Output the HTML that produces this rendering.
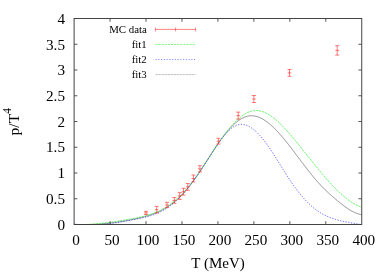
<!DOCTYPE html><html><head><meta charset="utf-8"><style>html,body{margin:0;padding:0;background:#fff}svg{display:block;will-change:transform;transform:translateZ(0)}</style></head><body><svg width="389" height="273" viewBox="0 0 389 273"><rect width="389" height="273" fill="#fff"/><path d="M74.1,224.37 L74.6,224.39 L75.1,224.42 L75.6,224.44 L76.1,224.46 L76.6,224.48 L77.1,224.49 L77.6,224.50 L78.1,224.50 L78.6,224.50 L79.1,224.50 L79.6,224.50 L80.1,224.50 L80.6,224.50 L81.1,224.50 L81.6,224.50 L82.1,224.50 L82.6,224.50 L83.1,224.50 L83.6,224.50 L84.1,224.50 L84.6,224.50 L85.1,224.50 L85.6,224.50 L86.1,224.50 L86.6,224.50 L87.1,224.50 L87.6,224.50 L88.1,224.50 L88.6,224.50 L89.1,224.50 L89.6,224.50 L90.1,224.50 L90.6,224.50 L91.1,224.50 L91.6,224.49 L92.1,224.47 L92.6,224.45 L93.1,224.43 L93.6,224.41 L94.1,224.39 L94.6,224.37 L95.1,224.34 L95.6,224.32 L96.1,224.29 L96.6,224.26 L97.1,224.23 L97.6,224.20 L98.1,224.17 L98.6,224.14 L99.1,224.11 L99.6,224.07 L100.1,224.04 L100.6,224.00 L101.1,223.96 L101.6,223.92 L102.1,223.88 L102.6,223.84 L103.1,223.80 L103.6,223.75 L104.1,223.71 L104.6,223.66 L105.1,223.62 L105.6,223.57 L106.1,223.52 L106.6,223.47 L107.1,223.42 L107.6,223.37 L108.1,223.32 L108.6,223.26 L109.1,223.21 L109.6,223.15 L110.1,223.09 L110.6,223.03 L111.1,222.97 L111.6,222.91 L112.1,222.85 L112.6,222.79 L113.1,222.73 L113.6,222.66 L114.1,222.60 L114.6,222.53 L115.1,222.46 L115.6,222.39 L116.1,222.32 L116.6,222.25 L117.1,222.18 L117.6,222.11 L118.1,222.04 L118.6,221.96 L119.1,221.89 L119.6,221.81 L120.1,221.73 L120.6,221.65 L121.1,221.57 L121.6,221.49 L122.1,221.41 L122.6,221.33 L123.1,221.24 L123.6,221.16 L124.1,221.07 L124.6,220.99 L125.1,220.90 L125.6,220.81 L126.1,220.72 L126.6,220.63 L127.1,220.54 L127.6,220.45 L128.1,220.36 L128.6,220.26 L129.1,220.17 L129.6,220.07 L130.1,219.97 L130.6,219.88 L131.1,219.78 L131.6,219.68 L132.1,219.58 L132.6,219.48 L133.1,219.37 L133.6,219.27 L134.1,219.17 L134.6,219.06 L135.1,218.96 L135.6,218.85 L136.1,218.74 L136.6,218.63 L137.1,218.52 L137.6,218.41 L138.1,218.30 L138.6,218.19 L139.1,218.07 L139.6,217.96 L140.1,217.84 L140.6,217.72 L141.1,217.60 L141.6,217.48 L142.1,217.35 L142.6,217.23 L143.1,217.10 L143.6,216.97 L144.1,216.84 L144.6,216.70 L145.1,216.57 L145.6,216.43 L146.1,216.29 L146.6,216.14 L147.1,216.00 L147.6,215.85 L148.1,215.70 L148.6,215.54 L149.1,215.38 L149.6,215.22 L150.1,215.06 L150.6,214.89 L151.1,214.72 L151.6,214.55 L152.1,214.38 L152.6,214.20 L153.1,214.01 L153.6,213.82 L154.1,213.63 L154.6,213.44 L155.1,213.24 L155.6,213.04 L156.1,212.83 L156.6,212.62 L157.1,212.41 L157.6,212.19 L158.1,211.97 L158.6,211.74 L159.1,211.51 L159.6,211.27 L160.1,211.03 L160.6,210.78 L161.1,210.53 L161.6,210.28 L162.1,210.02 L162.6,209.75 L163.1,209.48 L163.6,209.21 L164.1,208.92 L164.6,208.64 L165.1,208.35 L165.6,208.05 L166.1,207.75 L166.6,207.44 L167.1,207.12 L167.6,206.80 L168.1,206.48 L168.6,206.15 L169.1,205.81 L169.6,205.46 L170.1,205.11 L170.6,204.76 L171.1,204.39 L171.6,204.02 L172.1,203.65 L172.6,203.26 L173.1,202.87 L173.6,202.48 L174.1,202.08 L174.6,201.67 L175.1,201.25 L175.6,200.82 L176.1,200.39 L176.6,199.95 L177.1,199.51 L177.6,199.06 L178.1,198.59 L178.6,198.13 L179.1,197.65 L179.6,197.17 L180.1,196.68 L180.6,196.18 L181.1,195.67 L181.6,195.16 L182.1,194.64 L182.6,194.12 L183.1,193.58 L183.6,193.04 L184.1,192.49 L184.6,191.94 L185.1,191.38 L185.6,190.81 L186.1,190.23 L186.6,189.65 L187.1,189.06 L187.6,188.46 L188.1,187.86 L188.6,187.25 L189.1,186.63 L189.6,186.00 L190.1,185.37 L190.6,184.74 L191.1,184.09 L191.6,183.44 L192.1,182.78 L192.6,182.12 L193.1,181.45 L193.6,180.77 L194.1,180.09 L194.6,179.40 L195.1,178.70 L195.6,178.00 L196.1,177.29 L196.6,176.57 L197.1,175.85 L197.6,175.12 L198.1,174.39 L198.6,173.64 L199.1,172.90 L199.6,172.15 L200.1,171.39 L200.6,170.63 L201.1,169.86 L201.6,169.09 L202.1,168.31 L202.6,167.54 L203.1,166.76 L203.6,165.97 L204.1,165.19 L204.6,164.40 L205.1,163.61 L205.6,162.82 L206.1,162.03 L206.6,161.23 L207.1,160.44 L207.6,159.65 L208.1,158.86 L208.6,158.07 L209.1,157.28 L209.6,156.49 L210.1,155.70 L210.6,154.92 L211.1,154.13 L211.6,153.35 L212.1,152.58 L212.6,151.81 L213.1,151.04 L213.6,150.27 L214.1,149.51 L214.6,148.75 L215.1,148.00 L215.6,147.25 L216.1,146.51 L216.6,145.77 L217.1,145.04 L217.6,144.31 L218.1,143.59 L218.6,142.87 L219.1,142.16 L219.6,141.45 L220.1,140.75 L220.6,140.05 L221.1,139.37 L221.6,138.68 L222.1,138.01 L222.6,137.34 L223.1,136.68 L223.6,136.02 L224.1,135.38 L224.6,134.74 L225.1,134.11 L225.6,133.48 L226.1,132.87 L226.6,132.26 L227.1,131.66 L227.6,131.07 L228.1,130.48 L228.6,129.91 L229.1,129.34 L229.6,128.79 L230.1,128.24 L230.6,127.70 L231.1,127.17 L231.6,126.66 L232.1,126.15 L232.6,125.65 L233.1,125.16 L233.6,124.68 L234.1,124.22 L234.6,123.76 L235.1,123.31 L235.6,122.88 L236.1,122.45 L236.6,122.04 L237.1,121.64 L237.6,121.25 L238.1,120.88 L238.6,120.51 L239.1,120.16 L239.6,119.82 L240.1,119.49 L240.6,119.18 L241.1,118.87 L241.6,118.58 L242.1,118.31 L242.6,118.05 L243.1,117.80 L243.6,117.56 L244.1,117.34 L244.6,117.13 L245.1,116.94 L245.6,116.76 L246.1,116.60 L246.6,116.45 L247.1,116.31 L247.6,116.19 L248.1,116.09 L248.6,116.00 L249.1,115.92 L249.6,115.86 L250.1,115.82 L250.6,115.79 L251.1,115.77 L251.6,115.77 L252.1,115.78 L252.6,115.81 L253.1,115.85 L253.6,115.90 L254.1,115.97 L254.6,116.05 L255.1,116.14 L255.6,116.25 L256.1,116.37 L256.6,116.51 L257.1,116.65 L257.6,116.81 L258.1,116.98 L258.6,117.16 L259.1,117.36 L259.6,117.56 L260.1,117.78 L260.6,118.01 L261.1,118.25 L261.6,118.50 L262.1,118.77 L262.6,119.04 L263.1,119.33 L263.6,119.62 L264.1,119.93 L264.6,120.25 L265.1,120.58 L265.6,120.91 L266.1,121.26 L266.6,121.62 L267.1,121.98 L267.6,122.36 L268.1,122.74 L268.6,123.14 L269.1,123.54 L269.6,123.95 L270.1,124.38 L270.6,124.81 L271.1,125.24 L271.6,125.69 L272.1,126.14 L272.6,126.61 L273.1,127.08 L273.6,127.55 L274.1,128.04 L274.6,128.53 L275.1,129.03 L275.6,129.54 L276.1,130.05 L276.6,130.57 L277.1,131.10 L277.6,131.63 L278.1,132.17 L278.6,132.72 L279.1,133.27 L279.6,133.83 L280.1,134.39 L280.6,134.96 L281.1,135.53 L281.6,136.11 L282.1,136.70 L282.6,137.29 L283.1,137.88 L283.6,138.48 L284.1,139.08 L284.6,139.69 L285.1,140.30 L285.6,140.92 L286.1,141.54 L286.6,142.16 L287.1,142.79 L287.6,143.42 L288.1,144.05 L288.6,144.69 L289.1,145.33 L289.6,145.97 L290.1,146.62 L290.6,147.26 L291.1,147.91 L291.6,148.57 L292.1,149.22 L292.6,149.88 L293.1,150.53 L293.6,151.19 L294.1,151.85 L294.6,152.52 L295.1,153.18 L295.6,153.84 L296.1,154.51 L296.6,155.18 L297.1,155.84 L297.6,156.51 L298.1,157.18 L298.6,157.84 L299.1,158.51 L299.6,159.18 L300.1,159.84 L300.6,160.51 L301.1,161.17 L301.6,161.84 L302.1,162.50 L302.6,163.17 L303.1,163.83 L303.6,164.49 L304.1,165.14 L304.6,165.80 L305.1,166.45 L305.6,167.11 L306.1,167.76 L306.6,168.41 L307.1,169.05 L307.6,169.69 L308.1,170.33 L308.6,170.97 L309.1,171.60 L309.6,172.24 L310.1,172.86 L310.6,173.49 L311.1,174.11 L311.6,174.72 L312.1,175.34 L312.6,175.94 L313.1,176.55 L313.6,177.15 L314.1,177.74 L314.6,178.33 L315.1,178.92 L315.6,179.50 L316.1,180.08 L316.6,180.65 L317.1,181.22 L317.6,181.79 L318.1,182.35 L318.6,182.90 L319.1,183.45 L319.6,184.00 L320.1,184.54 L320.6,185.08 L321.1,185.61 L321.6,186.14 L322.1,186.67 L322.6,187.18 L323.1,187.70 L323.6,188.21 L324.1,188.72 L324.6,189.22 L325.1,189.72 L325.6,190.21 L326.1,190.70 L326.6,191.18 L327.1,191.66 L327.6,192.13 L328.1,192.60 L328.6,193.06 L329.1,193.52 L329.6,193.98 L330.1,194.43 L330.6,194.88 L331.1,195.32 L331.6,195.76 L332.1,196.19 L332.6,196.62 L333.1,197.05 L333.6,197.47 L334.1,197.89 L334.6,198.31 L335.1,198.73 L335.6,199.15 L336.1,199.56 L336.6,199.97 L337.1,200.38 L337.6,200.80 L338.1,201.21 L338.6,201.62 L339.1,202.03 L339.6,202.44 L340.1,202.84 L340.6,203.25 L341.1,203.65 L341.6,204.05 L342.1,204.44 L342.6,204.84 L343.1,205.22 L343.6,205.61 L344.1,205.99 L344.6,206.36 L345.1,206.73 L345.6,207.09 L346.1,207.45 L346.6,207.80 L347.1,208.15 L347.6,208.49 L348.1,208.82 L348.6,209.15 L349.1,209.47 L349.6,209.79 L350.1,210.09 L350.6,210.39 L351.1,210.68 L351.6,210.97 L352.1,211.24 L352.6,211.51 L353.1,211.77 L353.6,212.02 L354.1,212.27 L354.6,212.50 L355.1,212.72 L355.6,212.94 L356.1,213.14 L356.6,213.34 L357.1,213.52 L357.6,213.70 L358.1,213.86 L358.6,214.02 L359.1,214.16 L359.6,214.29 L360.1,214.41 L360.6,214.52 L361.1,214.62 L361.6,214.70" fill="none" stroke="#626262" stroke-width="0.7"/><path d="M74.1,224.50 L74.6,224.50 L75.1,224.50 L75.6,224.50 L76.1,224.50 L76.6,224.50 L77.1,224.50 L77.6,224.50 L78.1,224.50 L78.6,224.50 L79.1,224.50 L79.6,224.50 L80.1,224.50 L80.6,224.50 L81.1,224.50 L81.6,224.50 L82.1,224.50 L82.6,224.50 L83.1,224.50 L83.6,224.50 L84.1,224.50 L84.6,224.50 L85.1,224.50 L85.6,224.49 L86.1,224.48 L86.6,224.46 L87.1,224.43 L87.6,224.41 L88.1,224.39 L88.6,224.36 L89.1,224.34 L89.6,224.31 L90.1,224.28 L90.6,224.25 L91.1,224.22 L91.6,224.19 L92.1,224.15 L92.6,224.12 L93.1,224.08 L93.6,224.05 L94.1,224.01 L94.6,223.97 L95.1,223.93 L95.6,223.89 L96.1,223.85 L96.6,223.80 L97.1,223.76 L97.6,223.71 L98.1,223.67 L98.6,223.62 L99.1,223.57 L99.6,223.52 L100.1,223.47 L100.6,223.42 L101.1,223.36 L101.6,223.31 L102.1,223.26 L102.6,223.20 L103.1,223.14 L103.6,223.09 L104.1,223.03 L104.6,222.97 L105.1,222.91 L105.6,222.85 L106.1,222.79 L106.6,222.72 L107.1,222.66 L107.6,222.60 L108.1,222.53 L108.6,222.47 L109.1,222.40 L109.6,222.33 L110.1,222.26 L110.6,222.19 L111.1,222.13 L111.6,222.05 L112.1,221.98 L112.6,221.91 L113.1,221.84 L113.6,221.77 L114.1,221.69 L114.6,221.62 L115.1,221.54 L115.6,221.47 L116.1,221.39 L116.6,221.32 L117.1,221.24 L117.6,221.16 L118.1,221.08 L118.6,221.00 L119.1,220.92 L119.6,220.84 L120.1,220.76 L120.6,220.68 L121.1,220.60 L121.6,220.52 L122.1,220.43 L122.6,220.35 L123.1,220.27 L123.6,220.18 L124.1,220.10 L124.6,220.01 L125.1,219.93 L125.6,219.84 L126.1,219.76 L126.6,219.67 L127.1,219.59 L127.6,219.50 L128.1,219.41 L128.6,219.32 L129.1,219.24 L129.6,219.15 L130.1,219.06 L130.6,218.97 L131.1,218.88 L131.6,218.79 L132.1,218.70 L132.6,218.61 L133.1,218.52 L133.6,218.43 L134.1,218.34 L134.6,218.24 L135.1,218.15 L135.6,218.06 L136.1,217.96 L136.6,217.86 L137.1,217.77 L137.6,217.67 L138.1,217.57 L138.6,217.46 L139.1,217.36 L139.6,217.25 L140.1,217.15 L140.6,217.04 L141.1,216.93 L141.6,216.81 L142.1,216.70 L142.6,216.58 L143.1,216.46 L143.6,216.34 L144.1,216.22 L144.6,216.09 L145.1,215.96 L145.6,215.83 L146.1,215.70 L146.6,215.56 L147.1,215.42 L147.6,215.28 L148.1,215.13 L148.6,214.98 L149.1,214.83 L149.6,214.68 L150.1,214.52 L150.6,214.36 L151.1,214.19 L151.6,214.02 L152.1,213.85 L152.6,213.67 L153.1,213.49 L153.6,213.31 L154.1,213.12 L154.6,212.92 L155.1,212.73 L155.6,212.53 L156.1,212.32 L156.6,212.11 L157.1,211.90 L157.6,211.68 L158.1,211.45 L158.6,211.22 L159.1,210.99 L159.6,210.75 L160.1,210.51 L160.6,210.26 L161.1,210.01 L161.6,209.75 L162.1,209.48 L162.6,209.21 L163.1,208.94 L163.6,208.66 L164.1,208.37 L164.6,208.08 L165.1,207.78 L165.6,207.47 L166.1,207.16 L166.6,206.85 L167.1,206.52 L167.6,206.20 L168.1,205.86 L168.6,205.52 L169.1,205.17 L169.6,204.82 L170.1,204.45 L170.6,204.09 L171.1,203.71 L171.6,203.33 L172.1,202.94 L172.6,202.54 L173.1,202.14 L173.6,201.73 L174.1,201.32 L174.6,200.89 L175.1,200.46 L175.6,200.03 L176.1,199.58 L176.6,199.13 L177.1,198.68 L177.6,198.22 L178.1,197.75 L178.6,197.27 L179.1,196.79 L179.6,196.30 L180.1,195.80 L180.6,195.30 L181.1,194.80 L181.6,194.28 L182.1,193.76 L182.6,193.23 L183.1,192.70 L183.6,192.16 L184.1,191.62 L184.6,191.06 L185.1,190.51 L185.6,189.94 L186.1,189.37 L186.6,188.80 L187.1,188.22 L187.6,187.63 L188.1,187.03 L188.6,186.43 L189.1,185.83 L189.6,185.22 L190.1,184.60 L190.6,183.98 L191.1,183.35 L191.6,182.71 L192.1,182.07 L192.6,181.43 L193.1,180.77 L193.6,180.12 L194.1,179.45 L194.6,178.79 L195.1,178.11 L195.6,177.43 L196.1,176.75 L196.6,176.06 L197.1,175.36 L197.6,174.66 L198.1,173.95 L198.6,173.24 L199.1,172.52 L199.6,171.80 L200.1,171.07 L200.6,170.34 L201.1,169.61 L201.6,168.87 L202.1,168.12 L202.6,167.37 L203.1,166.62 L203.6,165.87 L204.1,165.11 L204.6,164.35 L205.1,163.59 L205.6,162.83 L206.1,162.06 L206.6,161.29 L207.1,160.52 L207.6,159.75 L208.1,158.98 L208.6,158.21 L209.1,157.43 L209.6,156.66 L210.1,155.89 L210.6,155.11 L211.1,154.34 L211.6,153.57 L212.1,152.80 L212.6,152.03 L213.1,151.26 L213.6,150.49 L214.1,149.72 L214.6,148.96 L215.1,148.20 L215.6,147.44 L216.1,146.68 L216.6,145.93 L217.1,145.18 L217.6,144.44 L218.1,143.69 L218.6,142.95 L219.1,142.22 L219.6,141.49 L220.1,140.76 L220.6,140.04 L221.1,139.33 L221.6,138.62 L222.1,137.91 L222.6,137.21 L223.1,136.52 L223.6,135.83 L224.1,135.15 L224.6,134.48 L225.1,133.81 L225.6,133.15 L226.1,132.50 L226.6,131.85 L227.1,131.21 L227.6,130.57 L228.1,129.95 L228.6,129.33 L229.1,128.72 L229.6,128.11 L230.1,127.52 L230.6,126.93 L231.1,126.35 L231.6,125.78 L232.1,125.22 L232.6,124.66 L233.1,124.11 L233.6,123.58 L234.1,123.05 L234.6,122.53 L235.1,122.02 L235.6,121.52 L236.1,121.02 L236.6,120.54 L237.1,120.07 L237.6,119.60 L238.1,119.15 L238.6,118.71 L239.1,118.27 L239.6,117.85 L240.1,117.44 L240.6,117.04 L241.1,116.65 L241.6,116.26 L242.1,115.90 L242.6,115.54 L243.1,115.19 L243.6,114.85 L244.1,114.53 L244.6,114.22 L245.1,113.91 L245.6,113.62 L246.1,113.35 L246.6,113.08 L247.1,112.83 L247.6,112.59 L248.1,112.36 L248.6,112.14 L249.1,111.94 L249.6,111.75 L250.1,111.57 L250.6,111.41 L251.1,111.26 L251.6,111.12 L252.1,111.00 L252.6,110.89 L253.1,110.79 L253.6,110.71 L254.1,110.64 L254.6,110.59 L255.1,110.55 L255.6,110.52 L256.1,110.51 L256.6,110.52 L257.1,110.53 L257.6,110.56 L258.1,110.61 L258.6,110.67 L259.1,110.74 L259.6,110.82 L260.1,110.92 L260.6,111.03 L261.1,111.15 L261.6,111.29 L262.1,111.43 L262.6,111.59 L263.1,111.76 L263.6,111.95 L264.1,112.14 L264.6,112.35 L265.1,112.57 L265.6,112.80 L266.1,113.04 L266.6,113.29 L267.1,113.55 L267.6,113.82 L268.1,114.11 L268.6,114.40 L269.1,114.70 L269.6,115.01 L270.1,115.34 L270.6,115.67 L271.1,116.01 L271.6,116.36 L272.1,116.72 L272.6,117.09 L273.1,117.47 L273.6,117.86 L274.1,118.25 L274.6,118.65 L275.1,119.06 L275.6,119.48 L276.1,119.91 L276.6,120.35 L277.1,120.79 L277.6,121.24 L278.1,121.69 L278.6,122.16 L279.1,122.63 L279.6,123.11 L280.1,123.59 L280.6,124.08 L281.1,124.58 L281.6,125.08 L282.1,125.59 L282.6,126.10 L283.1,126.62 L283.6,127.15 L284.1,127.68 L284.6,128.21 L285.1,128.75 L285.6,129.30 L286.1,129.85 L286.6,130.40 L287.1,130.96 L287.6,131.52 L288.1,132.09 L288.6,132.66 L289.1,133.23 L289.6,133.81 L290.1,134.39 L290.6,134.97 L291.1,135.56 L291.6,136.15 L292.1,136.74 L292.6,137.34 L293.1,137.93 L293.6,138.53 L294.1,139.13 L294.6,139.74 L295.1,140.34 L295.6,140.95 L296.1,141.56 L296.6,142.17 L297.1,142.78 L297.6,143.40 L298.1,144.01 L298.6,144.63 L299.1,145.25 L299.6,145.86 L300.1,146.48 L300.6,147.11 L301.1,147.73 L301.6,148.35 L302.1,148.98 L302.6,149.60 L303.1,150.23 L303.6,150.85 L304.1,151.48 L304.6,152.11 L305.1,152.73 L305.6,153.36 L306.1,153.99 L306.6,154.62 L307.1,155.25 L307.6,155.88 L308.1,156.50 L308.6,157.13 L309.1,157.76 L309.6,158.39 L310.1,159.02 L310.6,159.64 L311.1,160.27 L311.6,160.89 L312.1,161.52 L312.6,162.14 L313.1,162.77 L313.6,163.39 L314.1,164.01 L314.6,164.63 L315.1,165.25 L315.6,165.87 L316.1,166.49 L316.6,167.10 L317.1,167.72 L317.6,168.33 L318.1,168.94 L318.6,169.55 L319.1,170.16 L319.6,170.76 L320.1,171.36 L320.6,171.97 L321.1,172.57 L321.6,173.16 L322.1,173.76 L322.6,174.35 L323.1,174.94 L323.6,175.53 L324.1,176.12 L324.6,176.70 L325.1,177.28 L325.6,177.86 L326.1,178.43 L326.6,179.00 L327.1,179.57 L327.6,180.14 L328.1,180.70 L328.6,181.26 L329.1,181.82 L329.6,182.37 L330.1,182.92 L330.6,183.46 L331.1,184.01 L331.6,184.54 L332.1,185.08 L332.6,185.61 L333.1,186.14 L333.6,186.66 L334.1,187.18 L334.6,187.69 L335.1,188.20 L335.6,188.71 L336.1,189.21 L336.6,189.71 L337.1,190.20 L337.6,190.69 L338.1,191.17 L338.6,191.65 L339.1,192.13 L339.6,192.60 L340.1,193.06 L340.6,193.52 L341.1,193.97 L341.6,194.42 L342.1,194.87 L342.6,195.30 L343.1,195.74 L343.6,196.16 L344.1,196.59 L344.6,197.00 L345.1,197.41 L345.6,197.82 L346.1,198.22 L346.6,198.61 L347.1,198.99 L347.6,199.37 L348.1,199.75 L348.6,200.12 L349.1,200.48 L349.6,200.83 L350.1,201.18 L350.6,201.52 L351.1,201.86 L351.6,202.19 L352.1,202.51 L352.6,202.82 L353.1,203.13 L353.6,203.43 L354.1,203.72 L354.6,204.01 L355.1,204.29 L355.6,204.56 L356.1,204.83 L356.6,205.08 L357.1,205.33 L357.6,205.57 L358.1,205.81 L358.6,206.03 L359.1,206.25 L359.6,206.46 L360.1,206.66 L360.6,206.86 L361.1,207.04 L361.6,207.22" fill="none" stroke="#28f028" stroke-width="0.8" stroke-dasharray="2.1 1.0"/><path d="M74.1,224.09 L74.6,224.15 L75.1,224.21 L75.6,224.26 L76.1,224.31 L76.6,224.36 L77.1,224.40 L77.6,224.45 L78.1,224.49 L78.6,224.50 L79.1,224.50 L79.6,224.50 L80.1,224.50 L80.6,224.50 L81.1,224.50 L81.6,224.50 L82.1,224.50 L82.6,224.50 L83.1,224.50 L83.6,224.50 L84.1,224.50 L84.6,224.50 L85.1,224.50 L85.6,224.50 L86.1,224.50 L86.6,224.50 L87.1,224.50 L87.6,224.50 L88.1,224.50 L88.6,224.50 L89.1,224.50 L89.6,224.50 L90.1,224.50 L90.6,224.50 L91.1,224.50 L91.6,224.50 L92.1,224.50 L92.6,224.50 L93.1,224.50 L93.6,224.50 L94.1,224.50 L94.6,224.50 L95.1,224.50 L95.6,224.50 L96.1,224.50 L96.6,224.50 L97.1,224.50 L97.6,224.50 L98.1,224.50 L98.6,224.50 L99.1,224.50 L99.6,224.50 L100.1,224.47 L100.6,224.44 L101.1,224.40 L101.6,224.36 L102.1,224.32 L102.6,224.27 L103.1,224.23 L103.6,224.18 L104.1,224.14 L104.6,224.09 L105.1,224.04 L105.6,223.99 L106.1,223.94 L106.6,223.89 L107.1,223.83 L107.6,223.78 L108.1,223.72 L108.6,223.66 L109.1,223.60 L109.6,223.54 L110.1,223.48 L110.6,223.42 L111.1,223.36 L111.6,223.29 L112.1,223.23 L112.6,223.16 L113.1,223.09 L113.6,223.02 L114.1,222.95 L114.6,222.88 L115.1,222.81 L115.6,222.74 L116.1,222.67 L116.6,222.59 L117.1,222.52 L117.6,222.44 L118.1,222.36 L118.6,222.28 L119.1,222.21 L119.6,222.13 L120.1,222.05 L120.6,221.97 L121.1,221.88 L121.6,221.80 L122.1,221.72 L122.6,221.63 L123.1,221.55 L123.6,221.46 L124.1,221.38 L124.6,221.29 L125.1,221.20 L125.6,221.11 L126.1,221.03 L126.6,220.94 L127.1,220.85 L127.6,220.76 L128.1,220.67 L128.6,220.57 L129.1,220.48 L129.6,220.39 L130.1,220.30 L130.6,220.20 L131.1,220.11 L131.6,220.01 L132.1,219.92 L132.6,219.82 L133.1,219.73 L133.6,219.63 L134.1,219.53 L134.6,219.44 L135.1,219.34 L135.6,219.24 L136.1,219.14 L136.6,219.05 L137.1,218.95 L137.6,218.85 L138.1,218.75 L138.6,218.64 L139.1,218.54 L139.6,218.44 L140.1,218.33 L140.6,218.23 L141.1,218.12 L141.6,218.01 L142.1,217.90 L142.6,217.78 L143.1,217.67 L143.6,217.55 L144.1,217.43 L144.6,217.31 L145.1,217.19 L145.6,217.06 L146.1,216.94 L146.6,216.81 L147.1,216.67 L147.6,216.54 L148.1,216.40 L148.6,216.25 L149.1,216.11 L149.6,215.96 L150.1,215.81 L150.6,215.66 L151.1,215.50 L151.6,215.34 L152.1,215.17 L152.6,215.00 L153.1,214.83 L153.6,214.65 L154.1,214.47 L154.6,214.28 L155.1,214.09 L155.6,213.90 L156.1,213.70 L156.6,213.50 L157.1,213.29 L157.6,213.08 L158.1,212.86 L158.6,212.64 L159.1,212.41 L159.6,212.18 L160.1,211.94 L160.6,211.70 L161.1,211.45 L161.6,211.19 L162.1,210.93 L162.6,210.67 L163.1,210.40 L163.6,210.12 L164.1,209.84 L164.6,209.55 L165.1,209.25 L165.6,208.95 L166.1,208.64 L166.6,208.32 L167.1,208.00 L167.6,207.67 L168.1,207.33 L168.6,206.99 L169.1,206.64 L169.6,206.28 L170.1,205.92 L170.6,205.55 L171.1,205.17 L171.6,204.78 L172.1,204.39 L172.6,203.98 L173.1,203.57 L173.6,203.15 L174.1,202.73 L174.6,202.29 L175.1,201.85 L175.6,201.40 L176.1,200.94 L176.6,200.47 L177.1,199.99 L177.6,199.51 L178.1,199.02 L178.6,198.52 L179.1,198.01 L179.6,197.50 L180.1,196.98 L180.6,196.45 L181.1,195.91 L181.6,195.37 L182.1,194.81 L182.6,194.26 L183.1,193.69 L183.6,193.12 L184.1,192.54 L184.6,191.96 L185.1,191.37 L185.6,190.77 L186.1,190.17 L186.6,189.56 L187.1,188.94 L187.6,188.32 L188.1,187.69 L188.6,187.06 L189.1,186.42 L189.6,185.78 L190.1,185.13 L190.6,184.48 L191.1,183.82 L191.6,183.15 L192.1,182.48 L192.6,181.81 L193.1,181.13 L193.6,180.44 L194.1,179.76 L194.6,179.06 L195.1,178.37 L195.6,177.66 L196.1,176.96 L196.6,176.25 L197.1,175.54 L197.6,174.82 L198.1,174.10 L198.6,173.37 L199.1,172.64 L199.6,171.91 L200.1,171.18 L200.6,170.44 L201.1,169.70 L201.6,168.95 L202.1,168.21 L202.6,167.46 L203.1,166.70 L203.6,165.95 L204.1,165.19 L204.6,164.43 L205.1,163.67 L205.6,162.90 L206.1,162.14 L206.6,161.37 L207.1,160.60 L207.6,159.82 L208.1,159.05 L208.6,158.28 L209.1,157.50 L209.6,156.72 L210.1,155.95 L210.6,155.17 L211.1,154.39 L211.6,153.62 L212.1,152.84 L212.6,152.07 L213.1,151.30 L213.6,150.54 L214.1,149.77 L214.6,149.01 L215.1,148.26 L215.6,147.51 L216.1,146.76 L216.6,146.02 L217.1,145.28 L217.6,144.55 L218.1,143.83 L218.6,143.11 L219.1,142.40 L219.6,141.70 L220.1,141.00 L220.6,140.32 L221.1,139.64 L221.6,138.97 L222.1,138.32 L222.6,137.67 L223.1,137.03 L223.6,136.40 L224.1,135.79 L224.6,135.18 L225.1,134.59 L225.6,134.01 L226.1,133.45 L226.6,132.90 L227.1,132.36 L227.6,131.83 L228.1,131.32 L228.6,130.83 L229.1,130.35 L229.6,129.88 L230.1,129.44 L230.6,129.00 L231.1,128.59 L231.6,128.19 L232.1,127.81 L232.6,127.45 L233.1,127.11 L233.6,126.79 L234.1,126.49 L234.6,126.20 L235.1,125.94 L235.6,125.70 L236.1,125.48 L236.6,125.27 L237.1,125.09 L237.6,124.94 L238.1,124.80 L238.6,124.68 L239.1,124.58 L239.6,124.50 L240.1,124.44 L240.6,124.40 L241.1,124.38 L241.6,124.37 L242.1,124.39 L242.6,124.43 L243.1,124.48 L243.6,124.55 L244.1,124.64 L244.6,124.75 L245.1,124.87 L245.6,125.01 L246.1,125.17 L246.6,125.34 L247.1,125.54 L247.6,125.75 L248.1,125.97 L248.6,126.21 L249.1,126.47 L249.6,126.74 L250.1,127.03 L250.6,127.33 L251.1,127.65 L251.6,127.99 L252.1,128.33 L252.6,128.70 L253.1,129.07 L253.6,129.46 L254.1,129.87 L254.6,130.29 L255.1,130.72 L255.6,131.17 L256.1,131.62 L256.6,132.10 L257.1,132.58 L257.6,133.08 L258.1,133.59 L258.6,134.11 L259.1,134.64 L259.6,135.18 L260.1,135.74 L260.6,136.31 L261.1,136.89 L261.6,137.48 L262.1,138.08 L262.6,138.69 L263.1,139.31 L263.6,139.94 L264.1,140.58 L264.6,141.23 L265.1,141.89 L265.6,142.56 L266.1,143.24 L266.6,143.92 L267.1,144.62 L267.6,145.32 L268.1,146.03 L268.6,146.75 L269.1,147.48 L269.6,148.21 L270.1,148.95 L270.6,149.70 L271.1,150.45 L271.6,151.21 L272.1,151.97 L272.6,152.74 L273.1,153.51 L273.6,154.29 L274.1,155.07 L274.6,155.86 L275.1,156.64 L275.6,157.44 L276.1,158.23 L276.6,159.03 L277.1,159.83 L277.6,160.63 L278.1,161.43 L278.6,162.24 L279.1,163.04 L279.6,163.85 L280.1,164.65 L280.6,165.46 L281.1,166.27 L281.6,167.07 L282.1,167.88 L282.6,168.68 L283.1,169.48 L283.6,170.28 L284.1,171.08 L284.6,171.88 L285.1,172.67 L285.6,173.46 L286.1,174.25 L286.6,175.03 L287.1,175.81 L287.6,176.58 L288.1,177.35 L288.6,178.12 L289.1,178.88 L289.6,179.63 L290.1,180.38 L290.6,181.12 L291.1,181.86 L291.6,182.59 L292.1,183.31 L292.6,184.03 L293.1,184.74 L293.6,185.44 L294.1,186.14 L294.6,186.83 L295.1,187.52 L295.6,188.19 L296.1,188.87 L296.6,189.53 L297.1,190.19 L297.6,190.84 L298.1,191.49 L298.6,192.13 L299.1,192.76 L299.6,193.38 L300.1,194.00 L300.6,194.61 L301.1,195.21 L301.6,195.81 L302.1,196.40 L302.6,196.98 L303.1,197.56 L303.6,198.13 L304.1,198.69 L304.6,199.24 L305.1,199.79 L305.6,200.32 L306.1,200.85 L306.6,201.38 L307.1,201.89 L307.6,202.40 L308.1,202.90 L308.6,203.40 L309.1,203.88 L309.6,204.36 L310.1,204.83 L310.6,205.29 L311.1,205.75 L311.6,206.19 L312.1,206.63 L312.6,207.06 L313.1,207.48 L313.6,207.90 L314.1,208.30 L314.6,208.70 L315.1,209.09 L315.6,209.47 L316.1,209.85 L316.6,210.21 L317.1,210.57 L317.6,210.92 L318.1,211.27 L318.6,211.60 L319.1,211.93 L319.6,212.25 L320.1,212.57 L320.6,212.87 L321.1,213.17 L321.6,213.47 L322.1,213.76 L322.6,214.04 L323.1,214.31 L323.6,214.58 L324.1,214.84 L324.6,215.10 L325.1,215.35 L325.6,215.59 L326.1,215.83 L326.6,216.07 L327.1,216.29 L327.6,216.51 L328.1,216.73 L328.6,216.94 L329.1,217.15 L329.6,217.35 L330.1,217.55 L330.6,217.74 L331.1,217.93 L331.6,218.11 L332.1,218.29 L332.6,218.46 L333.1,218.63 L333.6,218.79 L334.1,218.96 L334.6,219.11 L335.1,219.27 L335.6,219.42 L336.1,219.56 L336.6,219.71 L337.1,219.84 L337.6,219.98 L338.1,220.11 L338.6,220.24 L339.1,220.37 L339.6,220.49 L340.1,220.62 L340.6,220.73 L341.1,220.85 L341.6,220.96 L342.1,221.08 L342.6,221.19 L343.1,221.29 L343.6,221.40 L344.1,221.50 L344.6,221.60 L345.1,221.70 L345.6,221.80 L346.1,221.90 L346.6,221.99 L347.1,222.09 L347.6,222.18 L348.1,222.27 L348.6,222.36 L349.1,222.45 L349.6,222.54 L350.1,222.63 L350.6,222.72 L351.1,222.81 L351.6,222.90 L352.1,222.98 L352.6,223.07 L353.1,223.16 L353.6,223.25 L354.1,223.34 L354.6,223.43 L355.1,223.51 L355.6,223.60 L356.1,223.69 L356.6,223.79 L357.1,223.88 L357.6,223.97 L358.1,224.06 L358.6,224.16 L359.1,224.26 L359.6,224.35 L360.1,224.45 L360.6,224.50 L361.1,224.50 L361.6,224.50" fill="none" stroke="#3030ff" stroke-width="0.8" stroke-dasharray="1.2 1.55"/><path d="M146.0,211.3V214.5M144.0,211.3h4M144.0,214.5h4M144.2,212.9h3.6M156.7,206.4V213.0M154.7,206.4h4M154.7,213.0h4M154.9,209.7h3.6M167.0,202.4V207.6M165.0,202.4h4M165.0,207.6h4M165.2,205.0h3.6M174.3,197.5V203.3M172.3,197.5h4M172.3,203.3h4M172.5,200.4h3.6M179.7,192.6V199.4M177.7,192.6h4M177.7,199.4h4M177.9,196.0h3.6M183.5,188.3V195.1M181.5,188.3h4M181.5,195.1h4M181.7,191.7h3.6M187.8,183.5V190.3M185.8,183.5h4M185.8,190.3h4M186.0,186.9h3.6M193.4,175.0V182.0M191.4,175.0h4M191.4,182.0h4M191.6,178.5h3.6M199.9,165.7V171.9M197.9,165.7h4M197.9,171.9h4M198.1,168.8h3.6M218.4,138.3V144.1M216.4,138.3h4M216.4,144.1h4M216.6,141.2h3.6M238.2,112.1V119.1M236.2,112.1h4M236.2,119.1h4M236.4,115.6h3.6M253.9,95.5V102.5M251.9,95.5h4M251.9,102.5h4M252.1,99.0h3.6M289.5,69.5V76.3M287.5,69.5h4M287.5,76.3h4M287.7,72.9h3.6M337.2,45.7V55.1M335.2,45.7h4M335.2,55.1h4M335.4,50.4h3.6" fill="none" stroke="#ff2828" stroke-width="0.62"/><path d="M155.5,29.4H195.6M155.5,27.5v3.8M195.6,27.5v3.8M175.6,27.6v3.6" fill="none" stroke="#ff3030" stroke-width="0.6"/><path d="M155.5,44.5H195.5" fill="none" stroke="#30f030" stroke-width="0.6" stroke-dasharray="2.1 1.0"/><path d="M155.5,59.5H195.5" fill="none" stroke="#4040ff" stroke-width="0.6" stroke-dasharray="1.2 1.55"/><path d="M155.5,74.6H195.5" fill="none" stroke="#888" stroke-width="0.55" stroke-dasharray="2.4 0.6"/><path d="M110.06,224.5v-3.3M110.06,18.5v3.3M74.1,198.75h3.3M361.75,198.75h-3.3M146.01,224.5v-3.3M146.01,18.5v3.3M74.1,173.00h3.3M361.75,173.00h-3.3M181.97,224.5v-3.3M181.97,18.5v3.3M74.1,147.25h3.3M361.75,147.25h-3.3M217.92,224.5v-3.3M217.92,18.5v3.3M74.1,121.50h3.3M361.75,121.50h-3.3M253.88,224.5v-3.3M253.88,18.5v3.3M74.1,95.75h3.3M361.75,95.75h-3.3M289.84,224.5v-3.3M289.84,18.5v3.3M74.1,70.00h3.3M361.75,70.00h-3.3M325.79,224.5v-3.3M325.79,18.5v3.3M74.1,44.25h3.3M361.75,44.25h-3.3" fill="none" stroke="#444" stroke-width="0.9"/><rect x="74.1" y="18.5" width="287.65" height="206.0" fill="none" stroke="#3a3a3a" stroke-width="0.95"/><g font-family="Liberation Serif, serif" font-size="15.2" fill="#000"><text x="65" y="229.7" text-anchor="end">0</text><text x="65" y="203.9" text-anchor="end">0.5</text><text x="65" y="178.2" text-anchor="end">1</text><text x="65" y="152.4" text-anchor="end">1.5</text><text x="65" y="126.7" text-anchor="end">2</text><text x="65" y="101.0" text-anchor="end">2.5</text><text x="65" y="75.2" text-anchor="end">3</text><text x="65" y="49.5" text-anchor="end">3.5</text><text x="65" y="23.7" text-anchor="end">4</text><text x="76.1" y="245.2" text-anchor="middle">0</text><text x="112.1" y="245.2" text-anchor="middle">50</text><text x="148.0" y="245.2" text-anchor="middle">100</text><text x="184.0" y="245.2" text-anchor="middle">150</text><text x="219.9" y="245.2" text-anchor="middle">200</text><text x="255.9" y="245.2" text-anchor="middle">250</text><text x="291.8" y="245.2" text-anchor="middle">300</text><text x="327.8" y="245.2" text-anchor="middle">350</text><text x="363.8" y="245.2" text-anchor="middle">400</text><text x="218" y="267.8" text-anchor="middle" font-size="15">T (MeV)</text><text transform="translate(18.6,135.5) rotate(-90)" font-size="15.6">p/T<tspan dy="-7.6" font-size="11.6">4</tspan></text></g><g font-family="Liberation Serif, serif" font-size="10.85" fill="#000" text-anchor="end"><text x="146.8" y="32.9">MC data</text><text x="146.8" y="47.9">fit1</text><text x="146.8" y="62.9">fit2</text><text x="146.8" y="77.9">fit3</text></g></svg></body></html>
